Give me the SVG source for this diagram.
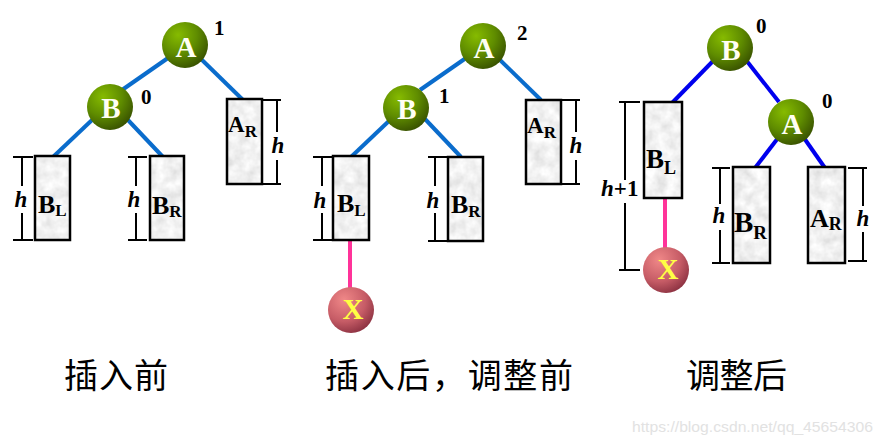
<svg xmlns="http://www.w3.org/2000/svg" width="884" height="446" viewBox="0 0 884 446">
<defs>
<radialGradient id="gGreen" cx="0.35" cy="0.28" r="0.75">
<stop offset="0" stop-color="#86bb00"/>
<stop offset="0.55" stop-color="#5f8c00"/>
<stop offset="1" stop-color="#3a5400"/>
</radialGradient>
<radialGradient id="gRed" cx="0.35" cy="0.28" r="0.78">
<stop offset="0" stop-color="#f08888"/>
<stop offset="0.6" stop-color="#c65c66"/>
<stop offset="1" stop-color="#8a3040"/>
</radialGradient>
<filter id="marble" x="0" y="0" width="1" height="1">
<feTurbulence type="fractalNoise" baseFrequency="0.09" numOctaves="3" seed="4" result="n"/>
<feColorMatrix in="n" type="matrix" values="0.4 0 0 0 0.68  0.4 0 0 0 0.68  0.4 0 0 0 0.68  0 0 0 0 1"/>
<feComposite in2="SourceGraphic" operator="in"/>
</filter>
</defs>
<style>
.e1{stroke:#0a6ccc;stroke-width:4;fill:none}
.e2{stroke:#0000ee;stroke-width:4;fill:none}
.pk{stroke:#ff3399;stroke-width:4;fill:none}
.bx{fill:#e8e8e8;filter:url(#marble)}
.bo{fill:none;stroke:#000;stroke-width:2.5}
.dm{stroke:#000;stroke-width:2;fill:none}
.t{font-family:"Liberation Serif","Times New Roman",serif;font-weight:bold;fill:#000}
.it{font-style:italic}
.cl{font-family:"Liberation Serif","Times New Roman",serif;font-weight:bold;font-size:29px;fill:#fffff4;text-anchor:middle}
.xl{font-family:"Liberation Serif","Times New Roman",serif;font-weight:bold;font-size:29px;fill:#ffff44;text-anchor:middle}
.num{font-family:"Liberation Serif","Times New Roman",serif;font-weight:bold;font-size:21px;fill:#000}
.cap{font-family:"Noto Sans CJK SC",sans-serif;font-size:34px;fill:#000}
.wm{font-family:"Liberation Sans",Arial,sans-serif;font-size:15px;fill:#e2e2e2}
</style>

<g id="connectors">
<line class="e1" x1="168" y1="58" x2="122" y2="90"/>
<line class="e1" x1="200" y1="58" x2="243" y2="100"/>
<line class="e1" x1="92" y1="120" x2="53" y2="157"/>
<line class="e1" x1="127" y1="119" x2="163" y2="157"/>
<line class="e1" x1="466" y1="58" x2="420" y2="90"/>
<line class="e1" x1="498" y1="58" x2="541" y2="100"/>
<line class="e1" x1="390" y1="120" x2="351" y2="157"/>
<line class="e1" x1="425" y1="119" x2="461" y2="157"/>
<line class="pk" x1="350" y1="240" x2="350" y2="290"/>
<line class="e2" x1="714" y1="60" x2="672" y2="103"/>
<line class="e2" x1="746" y1="60" x2="779" y2="102"/>
<line class="e2" x1="778" y1="138" x2="755" y2="168"/>
<line class="e2" x1="804" y1="138" x2="825" y2="168"/>
<line class="pk" x1="665" y1="198" x2="665" y2="250"/>
</g>

<g id="tree1">
<g id="t1-A"><circle cx="185" cy="45" r="23" fill="url(#gGreen)"/><text class="cl" x="186" y="57">A</text><text class="num" x="214" y="35">1</text></g>
<g id="t1-B"><circle cx="110" cy="107" r="23" fill="url(#gGreen)"/><text class="cl" x="111" y="118">B</text><text class="num" x="141" y="104">0</text></g>
<g id="t1-BL"><rect class="bx" x="35" y="156" width="35" height="84"/><rect class="bo" x="35" y="156" width="35" height="84"/>
<text class="t" x="38" y="213" font-size="26">B<tspan font-size="17" dy="3">L</tspan></text>
<path class="dm" d="M13 157H33M13 240H33M22 157V186M22 213V240"/><text class="t it" x="21" y="207" font-size="23" text-anchor="middle">h</text></g>
<g id="t1-BR"><rect class="bx" x="150" y="156" width="34" height="84"/><rect class="bo" x="150" y="156" width="34" height="84"/>
<text class="t" x="152" y="214" font-size="26">B<tspan font-size="17" dy="3">R</tspan></text>
<path class="dm" d="M128 157H147M128 240H147M136 157V186M136 213V240"/><text class="t it" x="134" y="207" font-size="23" text-anchor="middle">h</text></g>
<g id="t1-AR"><rect class="bx" x="227" y="99" width="35" height="85"/><rect class="bo" x="227" y="99" width="35" height="85"/>
<text class="t" x="228" y="132" font-size="23">A<tspan font-size="17" dy="5">R</tspan></text>
<path class="dm" d="M262 100H281M262 184H281M277 100V132M277 160V184"/><text class="t it" x="278" y="153" font-size="23" text-anchor="middle">h</text></g>
</g>

<g id="tree2">
<g id="t2-A"><circle cx="483" cy="46" r="23" fill="url(#gGreen)"/><text class="cl" x="484" y="58">A</text><text class="num" x="517" y="40">2</text></g>
<g id="t2-B"><circle cx="406" cy="108" r="23" fill="url(#gGreen)"/><text class="cl" x="407" y="119">B</text><text class="num" x="439" y="103" font-size="23">1</text></g>
<g id="t2-BL"><rect class="bx" x="333" y="156" width="36" height="84"/><rect class="bo" x="333" y="156" width="36" height="84"/>
<text class="t" x="337" y="212" font-size="26">B<tspan font-size="17" dy="4">L</tspan></text>
<path class="dm" d="M313 157H333M313 240H333M322 157V186M322 213V240"/><text class="t it" x="320" y="208" font-size="23" text-anchor="middle">h</text></g>
<g id="t2-BR"><rect class="bx" x="448" y="157" width="35" height="84"/><rect class="bo" x="448" y="157" width="35" height="84"/>
<text class="t" x="451" y="213" font-size="26">B<tspan font-size="17" dy="4">R</tspan></text>
<path class="dm" d="M428 157H448M428 241H448M435 157V186M435 213V241"/><text class="t it" x="433" y="208" font-size="23" text-anchor="middle">h</text></g>
<g id="t2-AR"><rect class="bx" x="526" y="100" width="35" height="84"/><rect class="bo" x="526" y="100" width="35" height="84"/>
<text class="t" x="527" y="133" font-size="23">A<tspan font-size="17" dy="5">R</tspan></text>
<path class="dm" d="M561 100H580M561 184H580M576 100V132M576 160V184"/><text class="t it" x="576" y="153" font-size="23" text-anchor="middle">h</text></g>
<g id="t2-X"><circle cx="351" cy="310" r="23" fill="url(#gRed)"/><text class="xl" x="353" y="319">X</text></g>
</g>

<g id="tree3">
<g id="t3-B"><circle cx="730" cy="48" r="23" fill="url(#gGreen)"/><text class="cl" x="731" y="60">B</text><text class="num" x="756" y="33">0</text></g>
<g id="t3-A"><circle cx="791" cy="122" r="23" fill="url(#gGreen)"/><text class="cl" x="792" y="134">A</text><text class="num" x="822" y="108">0</text></g>
<g id="t3-BL"><rect class="bx" x="644" y="102" width="38" height="96"/><rect class="bo" x="644" y="102" width="38" height="96"/>
<text class="t" x="646" y="168" font-size="27">B<tspan font-size="18" dy="6">L</tspan></text>
<path class="dm" d="M619 102H640M619 270H640M625 102V180M625 203V270"/>
<text class="t" x="601" y="196" font-size="23"><tspan class="it">h</tspan>+1</text></g>
<g id="t3-BR"><rect class="bx" x="733" y="167" width="37" height="96"/><rect class="bo" x="733" y="167" width="37" height="96"/>
<text class="t" x="734" y="232" font-size="29">B<tspan font-size="19" dy="7">R</tspan></text>
<path class="dm" d="M712 168H730M712 263H730M720 168V204M720 230V263"/><text class="t it" x="719" y="223" font-size="23" text-anchor="middle">h</text></g>
<g id="t3-AR"><rect class="bx" x="808" y="167" width="37" height="96"/><rect class="bo" x="808" y="167" width="37" height="96"/>
<text class="t" x="810" y="227" font-size="26">A<tspan font-size="18" dy="3">R</tspan></text>
<path class="dm" d="M848 168H867M848 261H867M863 168V206M863 232V261"/><text class="t it" x="863" y="226" font-size="23" text-anchor="middle">h</text></g>
<g id="t3-X"><circle cx="666" cy="270" r="23" fill="url(#gRed)"/><text class="xl" x="668" y="279">X</text></g>
</g>

<g id="captions">
<text class="cap" x="64" y="388" textLength="104" lengthAdjust="spacing">插入前</text>
<text class="cap" x="325" y="388" textLength="248" lengthAdjust="spacing">插入后，调整前</text>
<text class="cap" x="686" y="388" textLength="101" lengthAdjust="spacing">调整后</text>
</g>
<text class="wm" x="632" y="432" textLength="241" lengthAdjust="spacingAndGlyphs">https://blog.csdn.net/qq_45654306</text>
</svg>
